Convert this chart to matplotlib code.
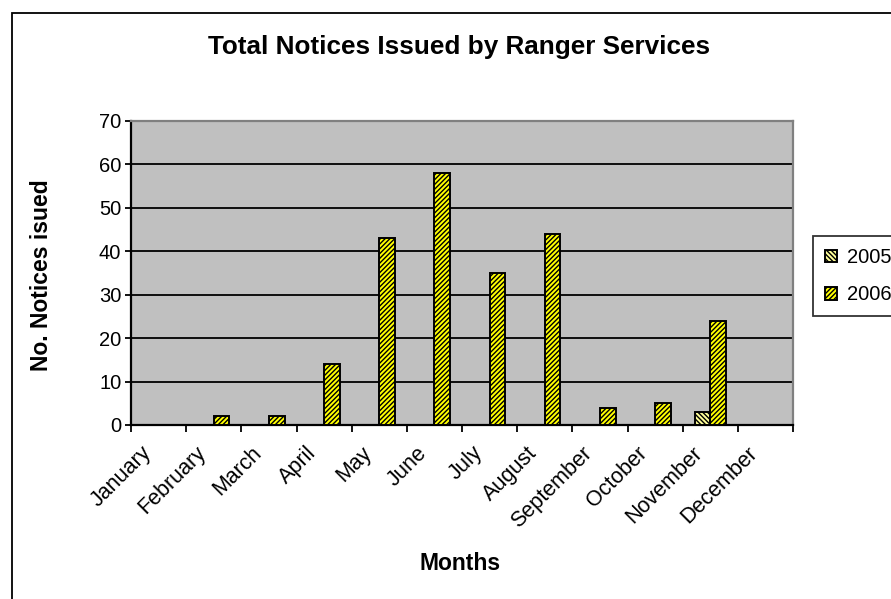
import matplotlib
matplotlib.use("Agg")
import matplotlib.pyplot as plt
from matplotlib.patches import Rectangle
from matplotlib.transforms import ScaledTranslation
import numpy as np

plt.rcParams['font.family'] = ['Liberation Sans', 'DejaVu Sans']
plt.rcParams['hatch.linewidth'] = 1.0

months = ["January", "February", "March", "April", "May", "June", "July",
          "August", "September", "October", "November", "December"]
notices_2005 = [0, 0, 0, 0, 0, 0, 0, 0, 0, 0, 3, 0]
notices_2006 = [0, 2, 2, 14, 43, 58, 35, 44, 4, 5, 24, 0]
series_names = ["2005", "2006"]
y_ticks = [0, 10, 20, 30, 40, 50, 60, 70]

W, H = 891, 599
fig = plt.figure(figsize=(W / 100, H / 100), dpi=100)
fig.patch.set_facecolor("white")

# outer chart frame
fig.patches.append(Rectangle((12 / W, -0.05), 1.2, 1 - 13 / H + 0.05,
                             transform=fig.transFigure, fill=False,
                             edgecolor="black", linewidth=1.3))

left, right, top, bottom = 131, 793, 121, 425
ax = fig.add_axes([left / W, 1 - bottom / H, (right - left) / W, (bottom - top) / H])
ax.set_facecolor("#C0C0C0")

x = np.arange(len(months)) + 0.5
w = 0.285
ax.bar(x - w / 2, notices_2005, width=w, facecolor="#FFFF99", edgecolor="black",
       hatch="\\\\\\\\\\\\\\", linewidth=1.4, label=series_names[0], zorder=3)
ax.bar(x + w / 2, notices_2006, width=w, facecolor="#FFFF00", edgecolor="black",
       hatch="///////", linewidth=1.4, label=series_names[1], zorder=3)

ax.set_xlim(0, len(months))
ax.set_ylim(0, 70)
ax.set_yticks(y_ticks)
ax.yaxis.grid(True, color="black", linewidth=1.3, zorder=1)
ax.set_axisbelow(True)

ax.set_xticks(np.arange(len(months) + 1))
ax.set_xticklabels([])
ax.set_xticks(x, minor=True)
ax.set_xticklabels(months, minor=True, rotation=45, ha="right", va="top",
                   rotation_mode="anchor", fontsize=15.5)
ax.tick_params(axis="x", which="minor", length=0, pad=6)
ax.tick_params(axis="x", which="major", length=5, width=1.3, direction="out")
ax.tick_params(axis="y", length=4, width=1.3, direction="out", labelsize=14.5, pad=3)
# month names sit slightly down-left of the category centres
shift = ScaledTranslation(-0.18, -0.09, fig.dpi_scale_trans)
for lbl in ax.get_xticklabels(minor=True):
    lbl.set_transform(lbl.get_transform() + shift)

for s in ("left", "bottom"):
    ax.spines[s].set_color("black")
    ax.spines[s].set_linewidth(1.6)
for s in ("top", "right"):
    ax.spines[s].set_color("#808080")
    ax.spines[s].set_linewidth(1.6)

fig.text(459 / W, 1 - 47 / H, "Total Notices Issued by Ranger Services",
         ha="center", va="center", fontsize=18.8, fontweight="bold")
fig.text(460 / W, 1 - 563 / H, "Months", ha="center", va="center",
         fontsize=16.5, fontweight="bold")
fig.text(42 / W, 1 - 275 / H, "No. Notices isued", ha="center", va="center",
         rotation=90, fontsize=16.5, fontweight="bold")

leg = fig.legend(loc="upper left", bbox_to_anchor=(813 / W, 1 - 236 / H),
                 fontsize=14.5, frameon=True, fancybox=False, handlelength=0.6,
                 handleheight=0.6, handletextpad=0.5, labelspacing=0.9,
                 borderpad=0.6, borderaxespad=0)
leg.get_frame().set_edgecolor("black")
leg.get_frame().set_linewidth(1.3)

fig.savefig("out.png", dpi=100)
